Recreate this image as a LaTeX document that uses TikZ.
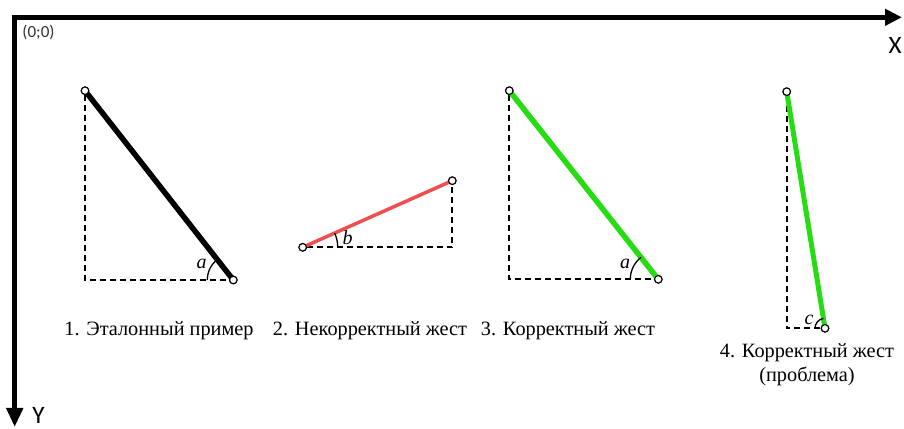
\documentclass[tikz,border=0pt]{standalone}
\usepackage{fontspec}
\setmainfont{Liberation Serif}
\newfontfamily\calib{Carlito}
\usetikzlibrary{arrows.meta,angles}
\definecolor{gred}{RGB}{238,80,80}
\definecolor{ggreen}{RGB}{40,220,20}
\begin{document}
\begin{tikzpicture}[x=1pt,y=1pt,
  pt/.style={circle,draw=black,fill=white,line width=1.1pt,inner sep=0pt,minimum size=7.5pt},
  dsh/.style={draw=black,line width=2pt,dash pattern=on 6pt off 4pt},
  ang/.style={draw=black,line width=1.3pt},
  captxt/.style={font=\fontsize{20.3}{24}\selectfont,align=center,inner sep=0pt},
  lbl/.style={font=\fontsize{20}{22}\selectfont\itshape,inner sep=0pt},
  axis/.style={line width=5.5pt,line join=miter}]
\useasboundingbox (0,0) rectangle (904,428);
% axes
\coordinate (O) at (14.7,410.7);
\coordinate (XE) at (902,410.7);
\coordinate (YE) at (14.7,1);
\draw[axis,{Triangle[length=19pt,width=16pt]}-{Triangle[length=17pt,width=16pt]}] (YE) -- (O) -- (XE);
\node[font=\calib\fontsize{17}{19}\selectfont,text=black!80,inner sep=0pt] (orig) at (38.5,396) {(0;0)};
\node[font=\calib\fontsize{25}{27}\selectfont,inner sep=0pt] (xl) at (895,383) {X};
\node[font=\calib\fontsize{25}{27}\selectfont,inner sep=0pt] (yl) at (38.5,13) {Y};
% figure 1
\coordinate (C1) at (85,148);
\node[pt] (A1) at (85,337.3) {};
\node[pt] (B1) at (233.3,148) {};
\draw[dsh] (A1) -- (C1) -- (B1);
\draw[line width=5.5pt] (A1.center) -- (B1.center);
\pic[ang,angle radius=26pt] {angle=A1--B1--C1};
\node[pt] at (A1) {};
\node[pt] at (B1) {};
\node[lbl] (la1) at (201.7,164) {a};
% figure 2
\coordinate (C2) at (452.3,180.7);
\node[pt] (A2) at (302.7,180.7) {};
\node[pt] (B2) at (452.3,247.3) {};
\draw[dsh] (A2) -- (C2) -- (B2);
\draw[gred,line width=3.5pt] (A2.center) -- (B2.center);
\pic[ang,angle radius=35pt] {angle=C2--A2--B2};
\node[pt] at (A2) {};
\node[pt] at (B2) {};
\node[lbl] (lb) at (347.7,190.5) {b};
% figure 3
\coordinate (C3) at (509.3,148.7);
\node[pt] (A3) at (509.3,337.3) {};
\node[pt] (B3) at (658.3,148.7) {};
\draw[dsh] (A3) -- (C3) -- (B3);
\draw[ggreen,line width=5.5pt] (A3.center) -- (B3.center);
\pic[ang,angle radius=28pt] {angle=A3--B3--C3};
\node[pt] at (A3) {};
\node[pt] at (B3) {};
\node[lbl] (la3) at (625,164) {a};
% figure 4
\coordinate (C4) at (786.7,99.7);
\node[pt] (A4) at (786.7,336.3) {};
\node[pt] (B4) at (825,99.7) {};
\draw[dsh] (A4) -- (C4) -- (B4);
\draw[ggreen,line width=5pt] (A4.center) -- (B4.center);
\pic[ang,angle radius=10pt] {angle=A4--B4--C4};
\node[pt] at (A4) {};
\node[pt] at (B4) {};
\node[lbl] (lc) at (809,108) {c};
% captions
\node[captxt] (t1) at (159,97) {1. Эталонный пример};
\node[captxt] (t2) at (370,97) {2. Некорректный жест};
\node[captxt] (t3) at (568,97) {3. Корректный жест};
\node[captxt] (t4) at (807,63.5) {4. Корректный жест\\(проблема)};
\end{tikzpicture}
\end{document}
